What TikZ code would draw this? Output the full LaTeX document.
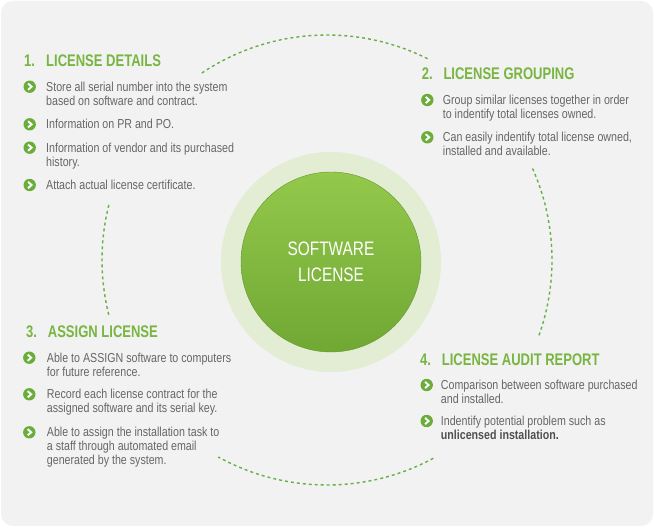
\documentclass[tikz,border=0pt]{standalone}
\usepackage{fontspec}
\newfontfamily\bodyfont[FakeStretch=0.82]{Liberation Sans}
\newfontfamily\headfont[FakeStretch=0.775]{Liberation Sans}
\newfontfamily\centerfont[FakeStretch=0.79]{Liberation Sans}
\definecolor{bg}{HTML}{F2F2F2}
\definecolor{headgreen}{HTML}{78B541}
\definecolor{bulgreen}{HTML}{6AAD3A}
\definecolor{dashgreen}{HTML}{6AAE48}
\definecolor{bodygray}{HTML}{666666}
\definecolor{boldgray}{HTML}{505050}
\definecolor{ringgreen}{HTML}{E3EDD4}
\definecolor{cirtop}{HTML}{93C84B}
\definecolor{cirbot}{HTML}{70A834}
\tikzset{
  headtxt/.style={anchor=base west,inner sep=0pt,text=headgreen,font=\headfont\bfseries\fontsize{16.8}{18}\selectfont},
  itemtxt/.style={anchor=base west,inner sep=0pt,text=bodygray,align=left,font=\bodyfont\fontsize{13}{14}\selectfont},
  bul/.style={circle,fill=bulgreen,minimum size=12.4pt,inner sep=0pt,
    path picture={\draw[white,line width=1.9pt,line join=miter]
      ([xshift=-1.6pt,yshift=3.1pt]path picture bounding box.center) --
      ([xshift=1.9pt]path picture bounding box.center) --
      ([xshift=-1.6pt,yshift=-3.1pt]path picture bounding box.center);}},
  dashline/.style={dashgreen,line width=1.4pt,dash pattern=on 3pt off 3pt}
}
\begin{document}
\begin{tikzpicture}[x=1pt,y=1pt]
\useasboundingbox (0,0) rectangle (654,528);
\fill[white] (0,0) rectangle (654,528);
\fill[bg,rounded corners=12pt] (1,2) rectangle (653,527);
% dashed circle
\coordinate (c) at (327,268);
\draw[dashline] ([shift={(123.8:225)}]c) arc[start angle=123.8,end angle=62.9,radius=225];
\draw[dashline] ([shift={(24.0:225)}]c) arc[start angle=24.0,end angle=-19.9,radius=225];
\draw[dashline] ([shift={(-61.8:225)}]c) arc[start angle=-61.8,end angle=-118.9,radius=225];
\draw[dashline] ([shift={(-165.9:225)}]c) arc[start angle=-165.9,end angle=-194.6,radius=225];
% centre
\node[circle,fill=ringgreen,minimum size=220pt,inner sep=0pt] (ring) at (331,266) {};
\node[circle,top color=cirtop,bottom color=cirbot,draw=cirbot!90!black,line width=0.4pt,minimum size=180pt,inner sep=0pt] (core) at (331,266) {};
\node[align=center,text=white,font=\centerfont\fontsize{19.5}{26}\selectfont] (title) at (331,266) {SOFTWARE\\LICENSE};
% section 1
\node[headtxt] (h1) at (24,461.3) {\makebox[22pt][l]{1.}LICENSE DETAILS};
\node[bul] (b11) at (29.7,441.3) {};
\node[itemtxt] (t11) at (46,422.8) {Store all serial number into the system\\based on software and contract.};
\node[bul] (b12) at (29.7,403.7) {};
\node[itemtxt] (t12) at (46,399.2) {Information on PR and PO.};
\node[bul] (b13) at (29.7,380.3) {};
\node[itemtxt] (t13) at (46,361.8) {Information of vendor and its purchased\\history.};
\node[bul] (b14) at (29.7,343.0) {};
\node[itemtxt] (t14) at (46,338.5) {Attach actual license certificate.};
% section 2
\node[headtxt] (h2) at (421.7,448) {\makebox[21.6pt][l]{2.}LICENSE GROUPING};
\node[bul] (b21) at (427.3,428.0) {};
\node[itemtxt] (t21) at (442.7,409.5) {Group similar licenses together in order\\to indentify total licenses owned.};
\node[bul] (b22) at (427.3,390.7) {};
\node[itemtxt] (t22) at (442.7,372.2) {Can easily indentify total license owned,\\installed and available.};
% section 3
\node[headtxt] (h3) at (26,190.3) {\makebox[21.7pt][l]{3.}ASSIGN LICENSE};
\node[bul] (b31) at (29.3,170.3) {};
\node[itemtxt] (t31) at (46.7,151.8) {Able to ASSIGN software to computers\\for future reference.};
\node[bul] (b32) at (29.3,133.7) {};
\node[itemtxt] (t32) at (46.7,115.2) {Record each license contract for the\\assigned software and its serial key.};
\node[bul] (b33) at (29.3,95.7) {};
\node[itemtxt] (t33) at (46.7,63.2) {Able to assign the installation task to\\a staff through automated email\\generated by the system.};
% section 4
\node[headtxt] (h4) at (420,162) {\makebox[21.7pt][l]{4.}LICENSE AUDIT REPORT};
\node[bul] (b41) at (426.7,143.0) {};
\node[itemtxt] (t41) at (440.7,124.5) {Comparison between software purchased\\and installed.};
\node[bul] (b42) at (426.7,107.0) {};
\node[itemtxt] (t42) at (440.7,88.5) {Indentify potential problem such as\\{\bfseries\color{boldgray}unlicensed installation.}};
\end{tikzpicture}
\end{document}
